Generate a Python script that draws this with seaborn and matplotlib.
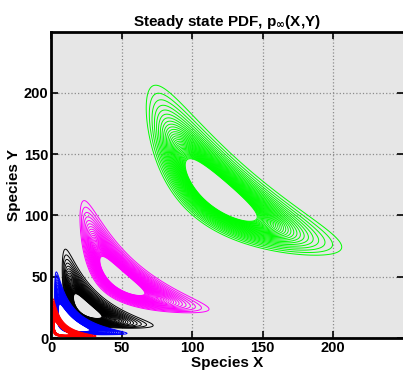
import numpy as np
import matplotlib
matplotlib.use("Agg")
import matplotlib.pyplot as plt
import seaborn as sns

# ---- data -------------------------------------------------------------
set_names = ["green", "magenta", "black", "blue", "red"]
set_colors = ["#00ff00", "#ff00ff", "#000000", "#0000ff", "#ff0000"]
centre = [118, 48, 24, 12, 5.5]                 # mode along the diagonal X=Y
p_outer = [0.755, 1.15, 1.47, 2.0, 2.3]         # log-space half width of outer contour, anti-diagonal
q_outer = [0.23, 0.34, 0.53, 0.72, 0.95]        # log-space half width of outer contour, diagonal
hole_ratio = [2.6, 2.6, 2.7, 1.8, 2.0]          # outer size / inner-hole size
hole_fill = [None, None, None, "white", "white"]
x_ticks = [0, 50, 100, 150, 200]
y_ticks = [0, 50, 100, 150, 200]
x_limits = [0, 250]
y_limits = [0, 250]

# ---- style -------------------------------------------------------------
sns.set_theme(style="ticks")
plt.rcParams["font.family"] = ["Liberation Sans", "DejaVu Sans"]
plt.rcParams["font.weight"] = "bold"
plt.rcParams["mathtext.fontset"] = "dejavusans"
plt.rcParams["text.color"] = "black"
plt.rcParams["axes.labelcolor"] = "black"
plt.rcParams["xtick.color"] = "black"
plt.rcParams["ytick.color"] = "black"

fig = plt.figure(figsize=(4.03, 3.78), dpi=100)
ax = fig.add_axes([51 / 403, 40 / 378, 352.5 / 403, 306.5 / 378])
ax.set_facecolor("#e6e6e6")

n_levels = 32
rho_out = 3.25

grid = np.linspace(0.05, 250, 1000)
X, Y = np.meshgrid(grid, grid)
LX, LY = np.log(X), np.log(Y)

for c, po, qo, hr, col, fill in zip(centre, p_outer, q_outer, hole_ratio,
                                     set_colors, hole_fill):
    rho_hole = rho_out / hr
    m = np.log(c)
    a = LX - m
    b = LY - m
    p = (a - b) / np.sqrt(2)
    q = (a + b) / np.sqrt(2)
    sp = po / rho_out
    sq = qo / rho_out
    rho = np.sqrt((p / sp) ** 2 + (q / sq) ** 2)
    F = np.exp(-rho)
    levels = np.linspace(np.exp(-rho_out), np.exp(-rho_hole), n_levels)
    if fill is not None:
        ax.contourf(X, Y, F, levels=[np.exp(-rho_hole), 2.0], colors=[fill])
    ax.contour(X, Y, F, levels=levels, colors=[col], linewidths=0.7)

ax.set_xlim(*x_limits)
ax.set_ylim(*y_limits)
ax.set_xticks(x_ticks)
ax.set_yticks(y_ticks)
ax.grid(True, linestyle=":", color="#8c8c8c", linewidth=0.9)
ax.set_axisbelow(True)
ax.tick_params(direction="in", length=5, width=1.2, top=True, right=True,
               labelsize=10.5, pad=2, colors="black")
for lab in ax.get_xticklabels() + ax.get_yticklabels():
    lab.set_fontweight("bold")
for side in ["left", "bottom", "top"]:
    ax.spines[side].set_linewidth(2)
    ax.spines[side].set_color("black")
ax.spines["right"].set_visible(False)

ax.set_title(r"Steady state PDF, p$_{\infty}$(X,Y)", fontsize=11, fontweight="bold", pad=4)
ax.set_xlabel("Species X", fontsize=11, fontweight="bold", labelpad=1)
ax.set_ylabel("Species Y", fontsize=11, fontweight="bold", labelpad=2)

fig.savefig("out.png", dpi=100)
